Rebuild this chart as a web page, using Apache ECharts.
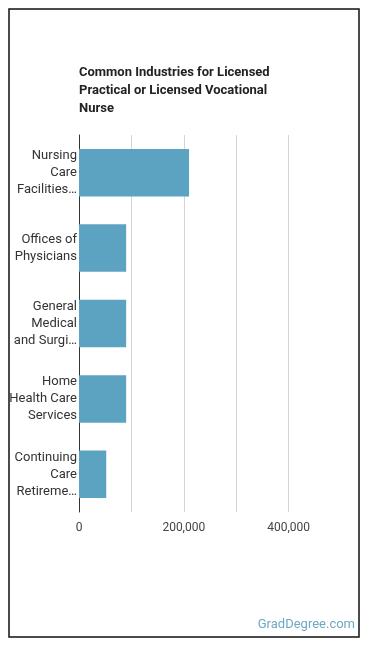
<!DOCTYPE html>
<html>
<head>
<meta charset="utf-8">
<script src="https://cdn.jsdelivr.net/npm/echarts@6/dist/echarts.min.js"></script>
<style>
  html, body { margin: 0; padding: 0; background: #fff; }
  #chart { width: 370px; height: 648px; }
</style>
</head>
<body>
<div id="chart"></div>
<script>
// industries as shown (top to bottom)
var categories = [
	'Nursing\nCare\nFacilities…',
	'Offices of\nPhysicians',
	'General\nMedical\nand Surgi…',
	'Home\nHealth Care\nServices',
	'Continuing\nCare\nRetireme…'
];
var employed = [210000, 90000, 90000, 90000, 52000];

var chart = echarts.init(document.getElementById('chart'));

chart.setOption({
	animation: false,
	title: {
		text: 'Common Industries for Licensed\nPractical or Licensed Vocational\nNurse',
		left: 79,
		top: 64,
		padding: 0,
		textStyle: {
			fontFamily: 'Roboto',
			fontSize: 13,
			fontWeight: 'bold',
			color: '#222',
			lineHeight: 18
		}
	},
	grid: {
		left: 79,
		right: 29,
		top: 135,
		bottom: 136,
		containLabel: false
	},
	xAxis: {
		type: 'value',
		min: 0,
		max: 500000,
		interval: 100000,
		axisLine: { show: false },
		axisTick: { show: false },
		axisLabel: {
			showMaxLabel: false,
			margin: 10,
			fontFamily: 'Roboto',
			fontSize: 12,
			color: '#444',
			// only every other tick gets a label
			formatter: function (v) {
				return v % 200000 === 0 ? v.toLocaleString('en-US') : '';
			}
		},
		splitLine: {
			showMinLine: false,
			showMaxLine: false,
			lineStyle: { color: '#d4d4d4', width: 1 }
		}
	},
	yAxis: {
		type: 'category',
		inverse: true,
		data: categories,
		axisLine: { lineStyle: { color: '#333', width: 1 } },
		axisTick: { show: false },
		axisLabel: {
			margin: 2,
			fontFamily: 'Roboto',
			fontSize: 13,
			lineHeight: 17,
			color: '#333',
			align: 'right'
		}
	},
	series: [{
		type: 'bar',
		data: employed,
		barCategoryGap: '37%',
		itemStyle: { color: '#5ca3c1' }
	}],
	graphic: [
		{
			type: 'rect',
			shape: { x: 9, y: 9, width: 350, height: 628 },
			style: { fill: 'none', stroke: '#111', lineWidth: 1.5 }
		},
		{
			type: 'text',
			right: 15,
			top: 618,
			style: {
				text: 'GradDegree.com',
				font: '13px Roboto',
				fill: '#6fa7c6'
			}
		}
	]
});
</script>
</body>
</html>
